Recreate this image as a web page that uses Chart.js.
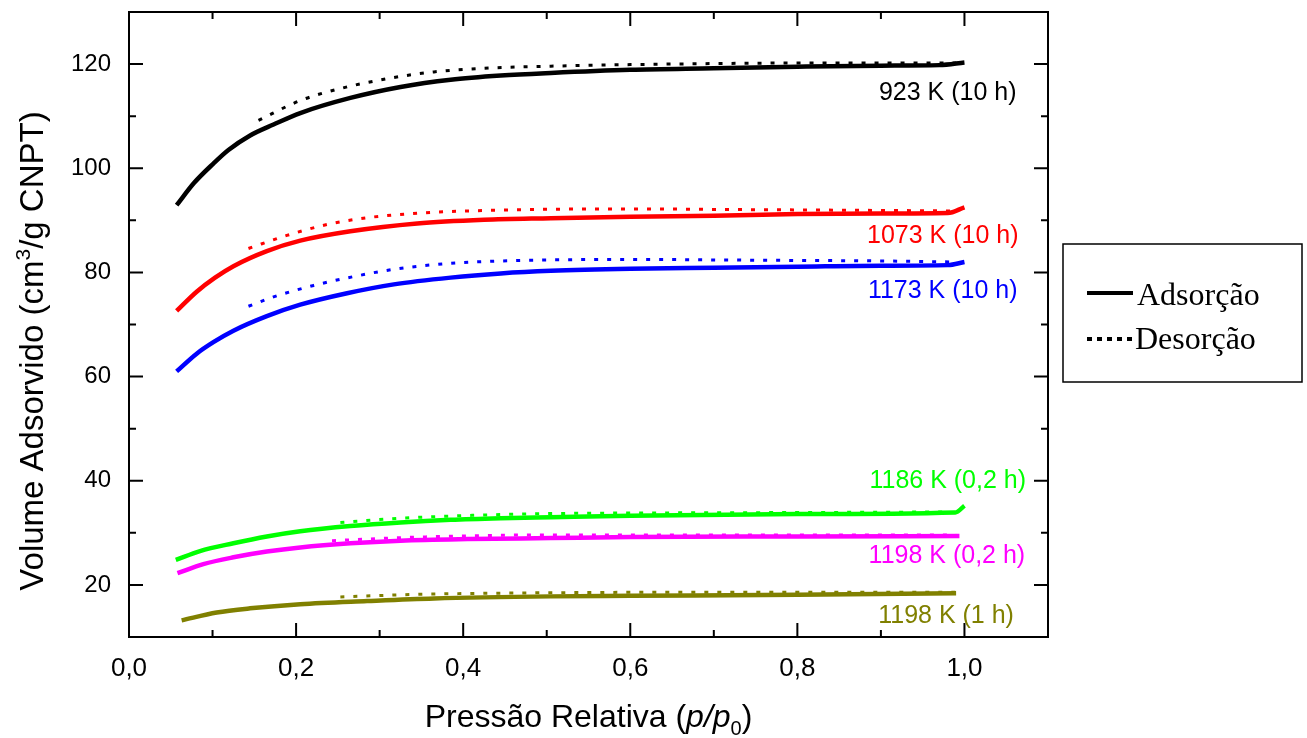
<!DOCTYPE html>
<html>
<head>
<meta charset="utf-8">
<script src="https://cdn.jsdelivr.net/npm/chart.js@4.4.1/dist/chart.umd.min.js"></script>
<style>
  html, body { margin: 0; padding: 0; background: #fff; }
  #wrap { width: 1307px; height: 738px; }
</style>
</head>
<body>
<div id="wrap"><canvas id="isoChart" width="1307" height="738"></canvas></div>
<script>
// Isotherm samples (x = p/p0, y = cm3/g CNPT)
const samples = ["923 K (10 h)", "1073 K (10 h)", "1173 K (10 h)", "1186 K (0,2 h)", "1198 K (0,2 h)", "1198 K (1 h)"];
const sampleColors = ["#000000", "#ff0000", "#0000ff", "#00ff00", "#ff00ff", "#808000"];

const adsX = [
  [0.057, 0.078, 0.101, 0.119, 0.145, 0.173, 0.205, 0.265, 0.325, 0.385, 0.445, 0.505, 0.6, 0.7, 0.8, 0.9, 0.97, 1.0],
  [0.057, 0.081, 0.103, 0.125, 0.165, 0.205, 0.265, 0.345, 0.425, 0.505, 0.6, 0.7, 0.8, 0.9, 0.98, 1.0],
  [0.057, 0.081, 0.101, 0.125, 0.165, 0.205, 0.261, 0.317, 0.385, 0.445, 0.505, 0.6, 0.7, 0.8, 0.9, 0.98, 1.0],
  [0.056, 0.085, 0.125, 0.165, 0.205, 0.265, 0.325, 0.385, 0.445, 0.505, 0.6, 0.8, 0.989, 1.0],
  [0.058, 0.089, 0.125, 0.165, 0.205, 0.265, 0.325, 0.405, 0.505, 0.6, 0.8, 0.994],
  [0.063, 0.105, 0.145, 0.205, 0.285, 0.365, 0.505, 0.6, 0.8, 0.99]
];
const adsY = [
  [92.9, 97.2, 100.9, 103.5, 106.3, 108.4, 110.6, 113.5, 115.6, 117.0, 117.8, 118.3, 118.9, 119.2, 119.5, 119.7, 119.8, 120.3],
  [72.6, 76.3, 79.0, 81.2, 84.1, 86.1, 87.9, 89.4, 90.1, 90.4, 90.7, 90.9, 91.2, 91.3, 91.4, 92.5],
  [61.0, 64.4, 66.6, 68.8, 71.6, 73.8, 76.0, 77.7, 79.0, 79.8, 80.3, 80.7, 80.9, 81.1, 81.3, 81.4, 82.0],
  [24.8, 26.5, 28.0, 29.3, 30.3, 31.3, 32.0, 32.5, 32.8, 33.0, 33.3, 33.6, 33.9, 35.2],
  [22.25, 24.0, 25.3, 26.4, 27.2, 28.0, 28.5, 28.8, 29.0, 29.2, 29.3, 29.4],
  [13.2, 14.7, 15.5, 16.3, 16.9, 17.4, 17.8, 17.9, 18.1, 18.4]
];
const desX = [
  [0.155, 0.205, 0.253, 0.313, 0.365, 0.425, 0.505, 0.6, 0.7, 0.8, 0.9, 0.99],
  [0.143, 0.189, 0.237, 0.285, 0.349, 0.405, 0.493, 0.6, 0.7, 0.8, 0.9, 0.99],
  [0.143, 0.173, 0.221, 0.269, 0.317, 0.381, 0.445, 0.505, 0.6, 0.7, 0.8, 0.9, 0.99],
  [0.253, 0.325, 0.4, 0.505, 0.6, 0.8, 0.98],
  [0.243, 0.35, 0.505, 0.7, 0.99],
  [0.253, 0.35, 0.505, 0.7, 0.99]
];
const desY = [
  [109.2, 113.0, 115.3, 117.3, 118.5, 119.2, 119.6, 119.9, 120.1, 120.2, 120.2, 120.2],
  [84.6, 87.1, 89.2, 90.5, 91.4, 91.8, 92.1, 92.2, 92.1, 92.0, 91.9, 91.8],
  [73.5, 75.3, 77.5, 79.2, 80.6, 81.7, 82.2, 82.4, 82.5, 82.4, 82.3, 82.2, 82.0],
  [32.0, 32.8, 33.3, 33.7, 33.8, 33.9, 34.0],
  [28.5, 29.2, 29.6, 29.6, 29.6],
  [17.7, 18.2, 18.5, 18.6, 18.6]
];

// where each sample name sits (data coords)
const labelX = [0.980, 0.974, 0.974, 0.980, 0.979, 0.978];
const labelY = [114.4, 86.9, 76.5, 40.0, 25.6, 14.0];

const xTicks = [0, 0.2, 0.4, 0.6, 0.8, 1.0];
const xMinor = [0.1, 0.3, 0.5, 0.7, 0.9, 1.1];
const yTicks = [20, 40, 60, 80, 100, 120];
const yMinor = [30, 50, 70, 90, 110, 130];

const legendNames = ["Adsorção", "Desorção"];

function pts(xs, ys) {
  return xs.map((x, i) => ({ x: x, y: ys[i] }));
}

const datasets = [];
samples.forEach((name, i) => {
  datasets.push({
    label: name + " ads",
    data: pts(adsX[i], adsY[i]),
    borderColor: sampleColors[i],
    borderWidth: 4.5,
    order: 1
  });
  datasets.push({
    label: name + " des",
    data: pts(desX[i], desY[i]),
    borderColor: sampleColors[i],
    borderWidth: 3,
    borderDash: [4, 9],
    order: 0
  });
});

// inward ticks on all four sides, frame, titles, labels, legend box
const decor = {
  id: "decor",
  afterDraw(chart) {
    const ctx = chart.ctx;
    const a = chart.chartArea;
    const xs = chart.scales.x, ys = chart.scales.y;
    ctx.save();
    ctx.strokeStyle = "#000";
    ctx.lineWidth = 2;
    ctx.strokeRect(a.left, a.top, a.right - a.left, a.bottom - a.top);

    function xTick(v, len) {
      const px = xs.getPixelForValue(v);
      ctx.beginPath();
      ctx.moveTo(px, a.bottom); ctx.lineTo(px, a.bottom - len);
      ctx.moveTo(px, a.top); ctx.lineTo(px, a.top + len);
      ctx.stroke();
    }
    function yTick(v, len) {
      const py = ys.getPixelForValue(v);
      ctx.beginPath();
      ctx.moveTo(a.left, py); ctx.lineTo(a.left + len, py);
      ctx.moveTo(a.right, py); ctx.lineTo(a.right - len, py);
      ctx.stroke();
    }
    xTicks.forEach(v => xTick(v, 14));
    xMinor.forEach(v => xTick(v, 7));
    yTicks.forEach(v => yTick(v, 14));
    yMinor.forEach(v => yTick(v, 7));

    // sample names
    ctx.font = "25px 'Liberation Sans', Arial, sans-serif";
    ctx.textAlign = "center";
    ctx.textBaseline = "middle";
    samples.forEach((name, i) => {
      ctx.fillStyle = sampleColors[i];
      ctx.fillText(name, xs.getPixelForValue(labelX[i]), ys.getPixelForValue(labelY[i]));
    });

    // x title: Pressão Relativa (p/p0)
    ctx.fillStyle = "#000";
    ctx.textBaseline = "alphabetic";
    ctx.textAlign = "left";
    const f = "32px 'Liberation Sans', Arial, sans-serif";
    const fi = "italic 32px 'Liberation Sans', Arial, sans-serif";
    const fs = "20px 'Liberation Sans', Arial, sans-serif";
    const parts = [["Pressão Relativa (", f, 0], ["p/p", fi, 0], ["0", fs, 8], [")", f, 0]];
    let w = 0;
    parts.forEach(p => { ctx.font = p[1]; w += ctx.measureText(p[0]).width; });
    let cx = (a.left + a.right) / 2 - w / 2;
    parts.forEach(p => {
      ctx.font = p[1];
      ctx.fillText(p[0], cx, 727 + p[2]);
      cx += ctx.measureText(p[0]).width;
    });

    // y title: Volume Adsorvido (cm3/g CNPT)
    ctx.save();
    ctx.translate(43, 351);
    ctx.rotate(-Math.PI / 2);
    const yf = "33px 'Liberation Sans', Arial, sans-serif";
    const ysup = "21px 'Liberation Sans', Arial, sans-serif";
    const yparts = [["Volume Adsorvido (cm", yf, 0], ["3", ysup, -13], ["/g CNPT)", yf, 0]];
    w = 0;
    yparts.forEach(p => { ctx.font = p[1]; w += ctx.measureText(p[0]).width; });
    cx = -w / 2;
    yparts.forEach(p => {
      ctx.font = p[1];
      ctx.fillText(p[0], cx, p[2]);
      cx += ctx.measureText(p[0]).width;
    });
    ctx.restore();

    // legend box
    ctx.lineWidth = 1.5;
    ctx.strokeRect(1063, 244, 239, 138);
    ctx.lineWidth = 4;
    ctx.beginPath();
    ctx.moveTo(1087, 293); ctx.lineTo(1133, 293);
    ctx.stroke();
    ctx.setLineDash([5, 5]);
    ctx.beginPath();
    ctx.moveTo(1087, 339); ctx.lineTo(1132, 339);
    ctx.stroke();
    ctx.setLineDash([]);
    ctx.font = "32px 'Liberation Serif', 'Times New Roman', serif";
    ctx.fillText(legendNames[0], 1137, 305);
    ctx.fillText(legendNames[1], 1135, 349);
    ctx.restore();
  }
};

const ctx = document.getElementById("isoChart").getContext("2d");
new Chart(ctx, {
  type: "line",
  data: { datasets: datasets },
  options: {
    responsive: false,
    animation: false,
    layout: { padding: { top: 12, right: 259, left: 0, bottom: 0 } },
    elements: {
      point: { radius: 0 },
      line: { cubicInterpolationMode: "monotone", fill: false, borderCapStyle: "butt" }
    },
    plugins: { legend: { display: false }, tooltip: { enabled: false } },
    scales: {
      x: {
        type: "linear",
        min: 0, max: 1.1,
        border: { display: false },
        grid: { display: false },
        afterBuildTicks: s => { s.ticks = xTicks.map(v => ({ value: v })); },
        afterFit: s => { s.height = 101; s.paddingLeft = 0; s.paddingRight = 0; },
        ticks: {
          padding: 8,
          color: "#000",
          maxRotation: 0,
          font: { family: "'Liberation Sans', Arial, sans-serif", size: 26 },
          callback: v => v.toFixed(1).replace(".", ",")
        }
      },
      y: {
        type: "linear",
        min: 10, max: 130,
        border: { display: false },
        grid: { display: false },
        afterBuildTicks: s => { s.ticks = yTicks.map(v => ({ value: v })); },
        afterFit: s => { s.width = 129; s.paddingTop = 0; s.paddingBottom = 0; },
        ticks: {
          padding: 10,
          color: "#000",
          font: { family: "'Liberation Sans', Arial, sans-serif", size: 24 },
          callback: v => String(v)
        }
      }
    }
  },
  plugins: [decor]
});
</script>
</body>
</html>
